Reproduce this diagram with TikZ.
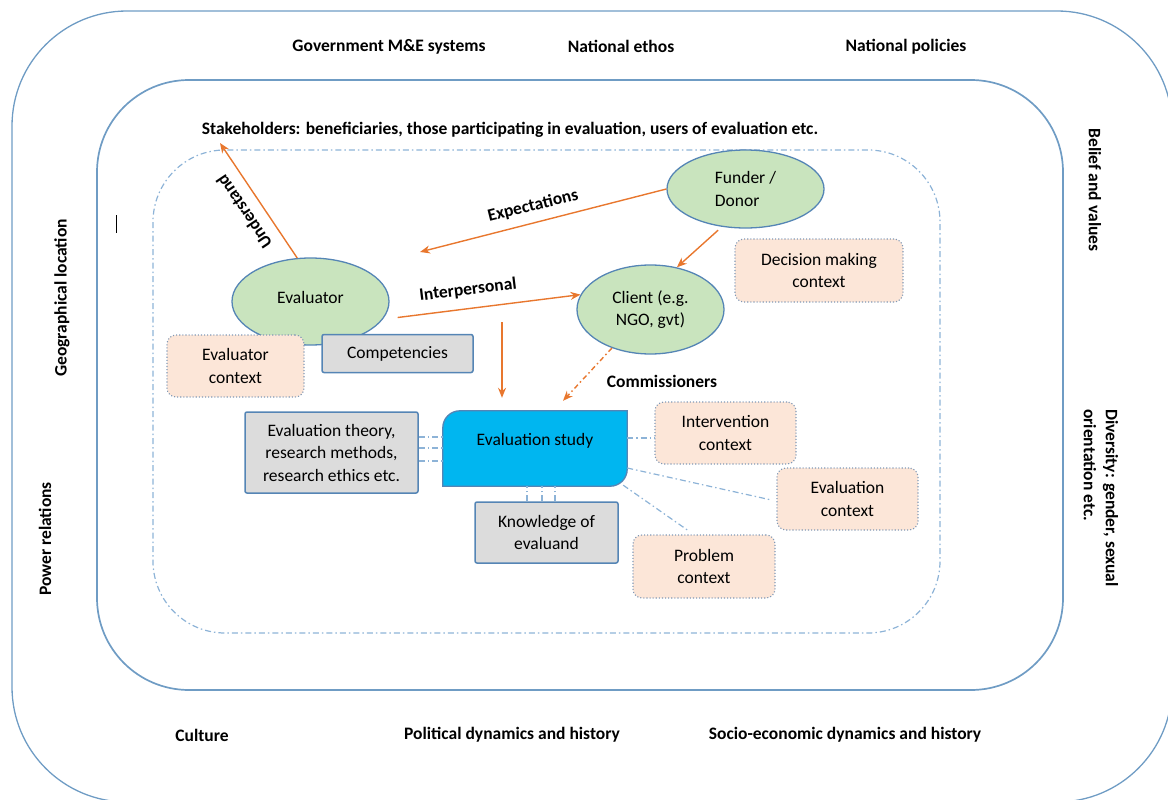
\documentclass[tikz,border=0pt]{standalone}
\usepackage{fontspec}
\setmainfont{Carlito}
\usetikzlibrary{shapes.geometric,arrows.meta,calc}
\definecolor{frameblue}{HTML}{6F9CC4}
\definecolor{dashblue}{HTML}{8DB3D7}
\definecolor{nodeblue}{HTML}{5585B5}
\definecolor{greenfill}{HTML}{C9E4BE}
\definecolor{peach}{HTML}{FCE6D8}
\definecolor{grayfill}{HTML}{DCDCDC}
\definecolor{cyanfill}{HTML}{00B6F0}
\definecolor{arroworange}{HTML}{E8772E}
\definecolor{dotborder}{HTML}{8098B5}
\tikzset{
  every node/.style={font=\fontsize{17.5}{22.5}\selectfont, inner sep=0pt},
  lbl/.style={font=\fontsize{17.5}{22}\selectfont\bfseries},
  actor/.style={ellipse, draw=nodeblue, line width=1.3pt, fill=greenfill, align=center},
  ctxbox/.style={rectangle, rounded corners=9pt, draw=dotborder, dotted, line width=1.1pt, fill=peach, align=center},
  knbox/.style={rectangle, rounded corners=2pt, draw=nodeblue, line width=1.5pt, fill=grayfill, align=center},
  rel/.style={draw=arroworange, line width=1.4pt, -{Stealth[length=10pt,width=8pt]}},
  reldash/.style={rel, dash pattern=on 5pt off 3pt on 1.5pt off 3pt},
  link/.style={draw=dashblue, line width=1.2pt, dash pattern=on 6pt off 3pt on 1.5pt off 3pt},
  frame/.style={draw=frameblue, line width=1.3pt},
}
\begin{document}
\begin{tikzpicture}[x=1pt,y=-1pt]
\useasboundingbox (0,0) rectangle (1168,800);
\begin{scope}
  \clip (0,0) rectangle (1168,800);
  \draw[frame, rounded corners=115pt] (12,11) rectangle (1172,802);
\end{scope}
\draw[frame, line width=1.7pt, rounded corners=92pt] (97,80) rectangle (1063,690);
\draw[link, rounded corners=72pt] (153,150) rectangle (940,633);

% outer context labels
\node[lbl] (gov) at (389,47) {Government M\&E systems};
\node[lbl] (ethos) at (621,46) {National ethos};
\node[lbl] (policies) at (906,47) {National policies};
\node[lbl] (culture) at (202,735) {Culture};
\node[lbl] (political) at (512,735) {Political dynamics and history};
\node[lbl] (socio) at (845,735) {Socio-economic dynamics and history};
\node[lbl, rotate=90] (geo) at (62,298) {Geographical location};
\node[lbl, rotate=90] (power) at (45,539) {Power relations};
\node[lbl, rotate=-90] (belief) at (1095,190) {Belief and values};
\node[lbl, rotate=-90, align=left] (diversity) at (1101,498) {Diversity: gender, sexual\\orientation etc.};
\draw[black, line width=1pt] (116,215) -- (116,233);

\node[lbl] (stakeholders) at (510,130) {Stakeholders: beneficiaries, those participating in evaluation, users of evaluation etc.};

% actors
\node[actor, minimum width=157pt, minimum height=87pt] (evaluator) at (310.5,301.5) {\raisebox{8pt}{Evaluator}};
\node[actor, minimum width=157pt, minimum height=78pt, align=left] (funder) at (745.5,189) {Funder /\\Donor};
\node[actor, minimum width=147pt, minimum height=89pt] (client) at (650.5,309.5) {Client (e.g.\\NGO, gvt)};

% context boxes
\node[ctxbox, minimum width=168pt, minimum height=63pt] (decision) at (819,270.5) {Decision making\\context};
\node[ctxbox, minimum width=137pt, minimum height=62pt] (evalctxA) at (235.5,366) {Evaluator\\context};
\node[knbox, minimum width=151pt, minimum height=38pt] (competencies) at (397.5,353.5) {Competencies};
\node[knbox, minimum width=173pt, minimum height=81pt] (theory) at (331.5,452.5) {Evaluation theory,\\research methods,\\research ethics etc.};
\node[knbox, minimum width=143pt, minimum height=61pt] (knowledge) at (546.5,532.5) {Knowledge of\\evaluand};
\node[ctxbox, minimum width=141pt, minimum height=62pt] (intervention) at (725.5,433) {Intervention\\context};
\node[ctxbox, minimum width=141pt, minimum height=62pt] (evalctx) at (847.5,499) {Evaluation\\context};
\node[ctxbox, minimum width=142pt, minimum height=63pt] (problem) at (704,566.5) {Problem\\context};

% evaluation study
\node[minimum width=184pt, minimum height=75pt] (study) at (535,448.5) {};
\draw[draw=nodeblue, line width=1.3pt, fill=cyanfill]
  (study.south west) -- ($(study.north west)+(0,17)$)
  .. controls ($(study.north west)+(0,7.6)$) and ($(study.north west)+(7.6,0)$) .. ($(study.north west)+(17,0)$)
  -- (study.north east) -- ($(study.south east)+(0,-17)$)
  .. controls ($(study.south east)+(0,-7.6)$) and ($(study.south east)+(-7.6,0)$) .. ($(study.south east)+(-17,0)$) -- cycle;
\node (studytext) at ($(study.north)+(0,30)$) {Evaluation study};

% blue dash-dot links
\coordinate (t1) at ($(theory.east)+(0,-15.5)$);
\coordinate (t2) at ($(theory.east)+(0,-4.5)$);
\coordinate (t3) at ($(theory.east)+(0,8.5)$);
\draw[link] (t1) -- (t1 -| study.west);
\draw[link] (t2) -- (t2 -| study.west);
\draw[link] (t3) -- (t3 -| study.west);
\coordinate (k1) at ($(knowledge.north)+(-19.5,0)$);
\coordinate (k2) at ($(knowledge.north)+(-4.5,0)$);
\coordinate (k3) at ($(knowledge.north)+(8.5,0)$);
\draw[link] (k1) -- (k1 |- study.south);
\draw[link] (k2) -- (k2 |- study.south);
\draw[link] (k3) -- (k3 |- study.south);
\coordinate (i1) at ($(intervention.west)+(0,5)$);
\draw[link] (i1 -| study.east) -- (i1);
\draw[link] ($(study.east)+(0,19.5)$) -- ($(evalctx.west)+(-5,1)$);
\draw[link] ($(study.south east)+(-4,-1)$) -- ($(problem.north)+(-16,-4)$);

% orange relations
\coordinate (understandEnd) at (220,143);
\coordinate (expectEnd) at (420,252);
\coordinate (relpt) at (502,322);
\draw[rel] (evaluator.107) -- (understandEnd);
\draw[rel] (funder.west) -- (expectEnd);
\draw[rel, shorten <=5pt] (funder.-122) -- (client.58);
\draw[rel] ($(evaluator.east)+(8,16)$) -- (client.168);
\draw[rel] (relpt) -- ($(study.north)+(-33,-13)$);
\draw[reldash] (client.-135) -- ($(study.north)+(28,-10)$);

\node[lbl, rotate=124] (understand) at (244,212) {Understand};
\node[lbl, rotate=14] (expect) at (533,206) {Expectations};
\node[lbl, rotate=7] (interpersonal) at (468,290) {Interpersonal};
\node[lbl] (commissioners) at (662,381) {Commissioners};
\end{tikzpicture}
\end{document}
